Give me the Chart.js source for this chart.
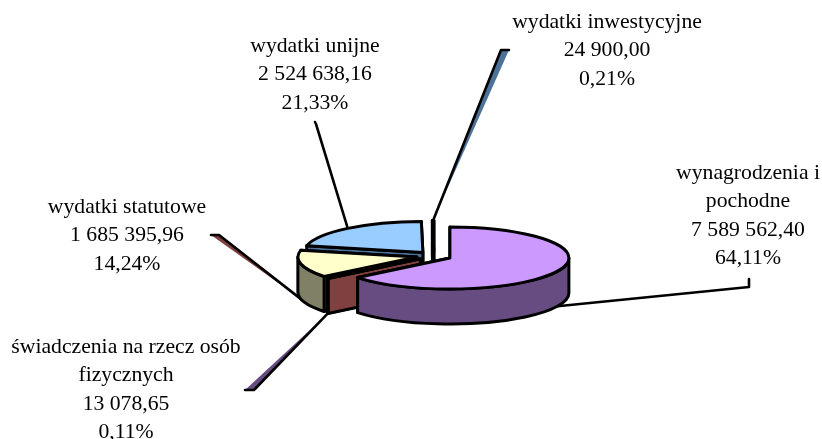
<!DOCTYPE html>
<html>
<head>
<meta charset="utf-8">
<script src="https://cdn.jsdelivr.net/npm/chart.js@4"></script>
<style>
  html, body { margin: 0; padding: 0; background: #fff; }
  canvas { display: block; }
</style>
</head>
<body>
<canvas id="chart" width="822" height="439"></canvas>
<script>
// Values
const categories = [
  ['wynagrodzenia i', 'pochodne'],
  ['świadczenia na rzecz osób', 'fizycznych'],
  ['wydatki statutowe'],
  ['wydatki unijne'],
  ['wydatki inwestycyjne']
];
const amounts = [7589562.40, 13078.65, 1685395.96, 2524638.16, 24900.00];
const topColors = ['#CC99FF', '#FF8080', '#FFFFCC', '#99CCFF', '#99CCFF'];
const wallColors = ['#664C80', '#804040', '#808066', '#4D7299', '#4D7299'];

// Label block: centre x and first baseline, leader end, sliver width, stub
const labelX = [748, 126, 127, 315, 607];
const labelY = [179, 353, 213, 52, 28];
const leaderEnds = [[749, 287], [254, 390], [219, 235], [316, 124], [501, 50]];
const sliverWidths = [0, -9, -8, 0, 8];
const stubs = [[749, 279], null, null, [315, 122], null];

const TILT = 31 / 119;     // ry / rx of the top face
const DEPTH = 35;          // height of the pie
const EXPLODE = 17.6;
const RADIUS = 119;
const LINE_H = 28.4;

function fmtAmount(v) {
  const [a, b] = v.toFixed(2).split('.');
  return a.replace(/\B(?=(\d{3})+$)/g, ' ') + ',' + b;
}
function fmtPct(v) {
  const total = amounts.reduce((s, x) => s + x, 0);
  return (v / total * 100).toFixed(2).replace('.', ',') + '%';
}

// Geometry of one slice on the tilted plane, taken from the arc element
function sliceGeom(arc) {
  const p = arc.getProps(['x', 'y', 'startAngle', 'endAngle', 'outerRadius'], true);
  const mid = (p.startAngle + p.endAngle) / 2;
  const cx = p.x + Math.cos(mid) * EXPLODE;
  const cy = p.y + Math.sin(mid) * EXPLODE * TILT;
  const rx = p.outerRadius, ry = rx * TILT;
  const rim = a => [cx + Math.cos(a) * rx, cy + Math.sin(a) * ry];
  return { cx, cy, rx, ry, s: p.startAngle, e: p.endAngle, mid, rim };
}

function lowestY(g) {
  let y = Math.max(g.cy, g.rim(g.s)[1], g.rim(g.e)[1]);
  if (g.s < Math.PI / 2 && g.e > Math.PI / 2) y = g.cy + g.ry;
  return y;
}

function drawSlice(ctx, g, top, wall) {
  ctx.fillStyle = wall;
  // radial side faces
  [g.e, g.s].forEach(a => {
    const r = g.rim(a);
    ctx.beginPath();
    ctx.moveTo(g.cx, g.cy);
    ctx.lineTo(r[0], r[1]);
    ctx.lineTo(r[0], r[1] + DEPTH);
    ctx.lineTo(g.cx, g.cy + DEPTH);
    ctx.closePath();
    ctx.fill();
    ctx.stroke();
  });
  // curved side face, only the front half of the rim
  const a0 = Math.max(g.s, 0), a1 = Math.min(g.e, Math.PI);
  if (a1 > a0) {
    const r0 = g.rim(a0), r1 = g.rim(a1);
    ctx.beginPath();
    ctx.moveTo(r0[0], r0[1]);
    ctx.ellipse(g.cx, g.cy, g.rx, g.ry, 0, a0, a1);
    ctx.lineTo(r1[0], r1[1] + DEPTH);
    ctx.ellipse(g.cx, g.cy + DEPTH, g.rx, g.ry, 0, a1, a0, true);
    ctx.closePath();
    ctx.fill();
    ctx.stroke();
  }
  // top face
  ctx.fillStyle = top;
  ctx.beginPath();
  ctx.moveTo(g.cx, g.cy);
  ctx.ellipse(g.cx, g.cy, g.rx, g.ry, 0, g.s, g.e);
  ctx.closePath();
  ctx.fill();
  ctx.stroke();
}

const pie3d = {
  id: 'pie3d',
  beforeDatasetDraw(chart) {
    const ctx = chart.ctx;
    const geoms = chart.getDatasetMeta(0).data.map(sliceGeom);
    ctx.save();
    ctx.lineJoin = 'round';
    ctx.lineCap = 'round';
    ctx.strokeStyle = '#000';

    // leader lines with their coloured slivers
    geoms.forEach((g, i) => {
      const r = g.rim(g.mid);
      const y0 = Math.sin(g.mid) > 0 ? r[1] + DEPTH : r[1];
      const end = leaderEnds[i];
      if (sliverWidths[i]) {
        ctx.fillStyle = wallColors[(i + wallColors.length - 1) % wallColors.length];
        ctx.beginPath();
        ctx.moveTo(r[0], y0);
        ctx.lineTo(end[0], end[1]);
        ctx.lineTo(end[0] + sliverWidths[i], end[1]);
        ctx.closePath();
        ctx.fill();
      }
      ctx.lineWidth = 2.6;
      ctx.beginPath();
      ctx.moveTo(r[0], y0);
      ctx.lineTo(end[0], end[1]);
      if (sliverWidths[i]) ctx.lineTo(end[0] + sliverWidths[i], end[1]);
      if (stubs[i]) ctx.lineTo(stubs[i][0], stubs[i][1]);
      ctx.stroke();
    });

    // back to front
    ctx.lineWidth = 3;
    geoms.map((g, i) => ({ g, i }))
      .sort((a, b) => lowestY(a.g) - lowestY(b.g))
      .forEach(({ g, i }) => drawSlice(ctx, g, topColors[i], wallColors[i]));
    ctx.restore();
    return false; // the library's flat arcs are replaced by the tilted ones
  },
  afterDraw(chart) {
    const ctx = chart.ctx;
    ctx.save();
    ctx.fillStyle = '#000';
    ctx.font = '21.7px "Liberation Serif"';
    ctx.textAlign = 'center';
    ctx.textBaseline = 'alphabetic';
    categories.forEach((lines, i) => {
      const text = [...lines, fmtAmount(amounts[i]), fmtPct(amounts[i])];
      text.forEach((t, n) => ctx.fillText(t, labelX[i], labelY[i] + n * LINE_H));
    });
    ctx.restore();
  }
};

new Chart(document.getElementById('chart'), {
  type: 'pie',
  data: {
    labels: categories.map(c => c.join(' ')),
    datasets: [{
      data: amounts,
      backgroundColor: topColors,
      borderWidth: 0
    }]
  },
  options: {
    responsive: false,
    animation: false,
    radius: RADIUS,
    layout: { padding: { left: 46, top: 73 } },
    plugins: { legend: { display: false }, tooltip: { enabled: false } }
  },
  plugins: [pie3d]
});
</script>
</body>
</html>
